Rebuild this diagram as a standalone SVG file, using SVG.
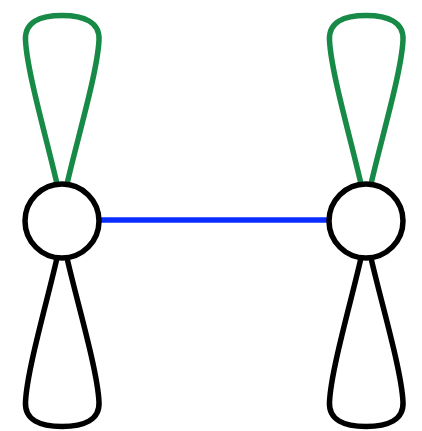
<svg xmlns="http://www.w3.org/2000/svg" width="422" height="431" viewBox="0 0 422 431">
<style>
.n{fill:#fff;stroke:#000;stroke-width:5.5}
.e{fill:none;stroke-width:5.5;stroke-linecap:round}
.g{stroke:#188a47}
.k{stroke:#000}
.b{stroke:#0a2cff;stroke-linecap:butt}
</style>
<rect width="422" height="431" fill="#fff"/>
<g id="edges">
<line class="e b" x1="99" y1="220" x2="328" y2="220"/>
<path class="e g" d="M57,184 C47,140 27,72 25.5,40 C24.5,22 40,15.5 62,15.5 C84,15.5 100,22 99,40 C97.5,72 77,140 67,184"/>
<path class="e k" d="M57,258 C47,302 27,370 25.5,402 C24.5,420 40,426.5 62,426.5 C84,426.5 100,420 99,402 C97.5,370 77,302 67,258"/>
<path class="e g" d="M361,184 C351,140 331,72 329.5,40 C328.5,22 344,15.5 366,15.5 C388,15.5 404,22 403,40 C401.5,72 381,140 371,184"/>
<path class="e k" d="M361,258 C351,302 331,370 329.5,402 C328.5,420 344,426.5 366,426.5 C388,426.5 404,420 403,402 C401.5,370 381,302 371,258"/>
</g>
<g id="node1"><circle class="n" cx="62" cy="221" r="37"/></g>
<g id="node2"><circle class="n" cx="366" cy="221" r="37"/></g>
</svg>
